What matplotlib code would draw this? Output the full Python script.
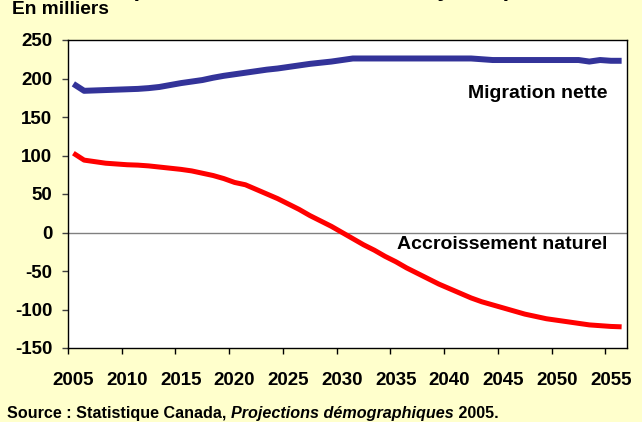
import numpy as np
import matplotlib
matplotlib.use('Agg')
import matplotlib.pyplot as plt

plt.rcParams['font.family'] = ['Liberation Sans', 'DejaVu Sans']
plt.rcParams['axes.unicode_minus'] = False

# Data (thousands)
years = list(range(2005, 2057))
migration_nette = [193, 184, 184.5, 185, 185.5, 186, 186.5, 187.5, 189, 191.5,
                   194, 196, 198, 201, 203.5, 205.5, 207.5, 209.5, 211.5, 213,
                   215, 217, 219, 220.5, 222, 224, 226, 226, 226, 226,
                   226, 226, 226, 226, 226, 226, 226, 226, 225, 224,
                   224, 224, 224, 224, 224, 224, 224, 224, 222, 224,
                   223, 223]
accroissement_naturel = [103, 94, 92, 90, 89, 88, 87.5, 86.5, 85, 83.5,
                         82, 80, 77, 74, 70, 65, 62, 56, 50, 44,
                         37, 30, 22, 15, 8, 0, -8, -16, -23, -31,
                         -38, -46, -53, -60, -67, -73, -79, -85, -90, -94,
                         -98, -102, -106, -109, -112, -114, -116, -118, -120, -121,
                         -122, -122.5]
label_years = list(range(2005, 2060, 5))
y_ticks = list(range(-150, 300, 50))

bg = '#FFFFCC'
fig = plt.figure(figsize=(6.42, 4.22), dpi=100, facecolor=bg)
W, H = 642, 422
ax = fig.add_axes([68/W, 1-348/H, (627-68)/W, (348-40)/H], facecolor='white')

ax.plot(years, migration_nette, color='#333399', linewidth=4.3, solid_capstyle='butt', zorder=3)
ax.plot(years, accroissement_naturel, color='#FF0000', linewidth=3.6, solid_capstyle='butt', zorder=3)
ax.axhline(0, color='#808080', linewidth=1.0, zorder=2)

ax.set_xlim(years[0]-0.5, years[-1]+0.5)
ax.set_ylim(-150, 250)

# category style axis: ticks between years, labels on years
ax.set_xticks([y-0.5 for y in label_years])
ax.set_xticklabels([])
ax.set_xticks(label_years, minor=True)
ax.set_xticklabels([str(y) for y in label_years], minor=True)
ax.tick_params(axis='x', which='major', direction='out', length=4, width=1, color='black')
ax.tick_params(axis='x', which='minor', length=0, pad=17, labelsize=13.5)
ax.set_yticks(y_ticks)
ax.tick_params(axis='y', direction='out', length=4.3, width=1, pad=7, labelsize=13.5, color='#404040')
for lab in ax.get_xticklabels(minor=True) + ax.get_yticklabels():
    lab.set_fontweight('bold')

for s in ax.spines.values():
    s.set_color('black')
    s.set_linewidth(1.0)

ax.text(2054.7, 181, 'Migration nette', ha='right', va='center', fontsize=14, fontweight='bold')
ax.text(2054.7, -15, 'Accroissement naturel', ha='right', va='center', fontsize=14, fontweight='bold')

fig.text(12/W, 1-13.5/H, 'En milliers', ha='left', va='baseline', fontsize=13.8, fontweight='bold')
# title line cut off by the top edge, only descenders show
fig.text(131/W, 1+4.5/H, '(Scénario de croissance moyenne)', ha='left', va='baseline',
         fontsize=16.7, fontweight='bold')

# source line with italic part
fig.canvas.draw()
r = fig.canvas.get_renderer()
x0 = 7/W
yb = 1-418/H
parts = [('Source : Statistique Canada, ', 'normal'), ('Projections démographiques', 'italic'), (' 2005.', 'normal')]
for txt, st in parts:
    t = fig.text(x0, yb, txt, ha='left', va='baseline', fontsize=11.6, fontweight='bold', style=st)
    bb = t.get_window_extent(renderer=r)
    x0 = bb.x1 / fig.bbox.width

fig.savefig('out.png', dpi=100, facecolor=bg)
